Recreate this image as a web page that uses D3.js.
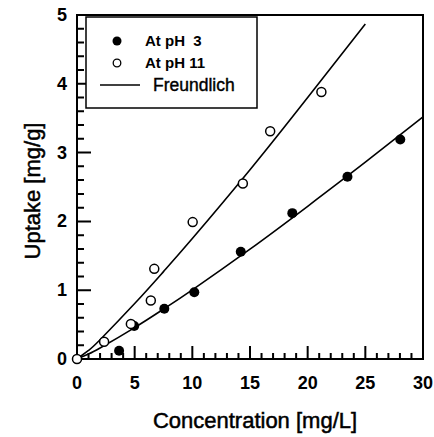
<!DOCTYPE html>
<html>
<head>
<meta charset="utf-8">
<script src="https://cdn.jsdelivr.net/npm/d3@7"></script>
<style>
  body { margin: 0; background: #fff; }
  text { font-family: "Liberation Sans", Arial, sans-serif; fill: #000; }
</style>
</head>
<body>
<div id="chart"></div>
<script>
const width = 434, height = 437;
const margin = {top: 15, right: 11, bottom: 78, left: 77};

// measured points
const ph3X = [3.65, 4.96, 7.57, 10.17, 14.2, 18.67, 23.45, 28.03];
const ph3Y = [0.12, 0.48, 0.73, 0.97, 1.56, 2.12, 2.65, 3.19];
const ph11X = [0, 2.35, 4.67, 6.4, 6.7, 10.03, 14.38, 16.75, 21.19];
const ph11Y = [0, 0.25, 0.51, 0.85, 1.31, 1.99, 2.55, 3.31, 3.88];

// Freundlich curves
const fit3X = [0, 1, 2, 5, 7.5, 10, 15, 20, 25, 30];
const fit3Y = [0, 0.073, 0.16, 0.457, 0.725, 1.006, 1.597, 2.22, 2.86, 3.52];
const fit11X = [0, 1, 2, 5, 7.5, 10, 15, 20, 25];
const fit11Y = [0, 0.125, 0.28, 0.806, 1.27, 1.75, 2.75, 3.8, 4.87];

const xTicks = [0, 5, 10, 15, 20, 25, 30];
const yTicks = [0, 1, 2, 3, 4, 5];
const xMinor = d3.range(0, 31, 1);
const yMinor = d3.range(0, 26).map(d => d / 5);

let svg = d3.select("#chart").append("svg")
  .attr("width", width)
  .attr("height", height);

let x = d3.scaleLinear().domain([0, 30]).range([margin.left, width - margin.right]);
let y = d3.scaleLinear().domain([0, 5]).range([height - margin.bottom, margin.top]);

const x0 = x(0), x1 = x(30), y0 = y(0), y1 = y(5);

// frame with inward ticks, one path
let p = d3.path();
p.moveTo(x0, y1); p.lineTo(x1, y1); p.lineTo(x1, y0); p.lineTo(x0, y0); p.closePath();
xMinor.forEach(d => { p.moveTo(x(d), y0); p.lineTo(x(d), y0 - (xTicks.includes(d) ? 13 : 6)); });
yMinor.forEach(d => {
  const major = Math.abs(d - Math.round(d)) < 1e-6;
  p.moveTo(x0, y(d)); p.lineTo(x0 + (major ? 14 : 7), y(d));
});
svg.append("path")
  .attr("d", p.toString())
  .attr("fill", "none").attr("stroke", "#000").attr("stroke-width", 2);

// tick labels
svg.append("g").selectAll("text").data(xTicks).enter().append("text")
  .attr("x", d => x(d)).attr("y", y0 + 30)
  .style("text-anchor", "middle")
  .style("font-size", "18px").style("font-weight", "bold")
  .text(d => d);

svg.append("g").selectAll("text").data(yTicks).enter().append("text")
  .attr("x", x0 - 10).attr("y", d => y(d) + 6)
  .style("text-anchor", "end")
  .style("font-size", "18px").style("font-weight", "bold")
  .text(d => d);

// curves
let line = d3.line()
  .x(d => x(d[0]))
  .y(d => y(d[1]))
  .curve(d3.curveNatural);

[[fit3X, fit3Y], [fit11X, fit11Y]].forEach(function(c) {
  svg.append("path")
    .datum(c[0].map((v, i) => [v, c[1][i]]))
    .attr("d", line)
    .attr("fill", "none")
    .attr("stroke", "#000")
    .attr("stroke-width", 1.6);
});

// points
svg.append("g").selectAll("circle")
  .data(ph3X.map((v, i) => [v, ph3Y[i]]))
  .enter().append("circle")
  .attr("cx", d => x(d[0])).attr("cy", d => y(d[1]))
  .attr("r", 5).attr("fill", "#000");

svg.append("g").selectAll("circle")
  .data(ph11X.map((v, i) => [v, ph11Y[i]]))
  .enter().append("circle")
  .attr("cx", d => x(d[0])).attr("cy", d => y(d[1]))
  .attr("r", 4.5).attr("fill", "#fff").attr("stroke", "#000").attr("stroke-width", 1.5);

// axis titles
svg.append("text")
  .attr("x", (x0 + x1) / 2 + 5).attr("y", 428)
  .style("text-anchor", "middle")
  .style("font-size", "22px")
  .style("stroke", "#000").style("stroke-width", 0.5)
  .text("Concentration [mg/L]");

svg.append("text")
  .attr("transform", `translate(40,${(y0 + y1) / 2 + 4}) rotate(-90)`)
  .style("text-anchor", "middle")
  .style("font-size", "22px")
  .style("stroke", "#000").style("stroke-width", 0.5)
  .text("Uptake [mg/g]");

// legend
let legend = svg.append("g");
legend.append("rect")
  .attr("x", 86).attr("y", 17).attr("width", 171).attr("height", 91)
  .attr("fill", "#fff").attr("stroke", "#000").attr("stroke-width", 1.5);

legend.append("circle").attr("cx", 117).attr("cy", 41).attr("r", 4.5).attr("fill", "#000");
legend.append("text").attr("x", 145).attr("y", 46)
  .style("font-size", "15px").style("font-weight", "bold")
  .attr("xml:space", "preserve")
  .text("At pH  3");

legend.append("circle").attr("cx", 117).attr("cy", 63).attr("r", 3.8)
  .attr("fill", "#fff").attr("stroke", "#000").attr("stroke-width", 1.3);
legend.append("text").attr("x", 145).attr("y", 68)
  .style("font-size", "15px").style("font-weight", "bold")
  .text("At pH 11");

legend.append("line").attr("x1", 100).attr("x2", 140).attr("y1", 85).attr("y2", 85)
  .attr("stroke", "#000").attr("stroke-width", 1.3);
legend.append("text").attr("x", 153).attr("y", 91)
  .style("font-size", "17.5px")
  .style("stroke", "#000").style("stroke-width", 0.4)
  .text("Freundlich");
</script>
</body>
</html>
